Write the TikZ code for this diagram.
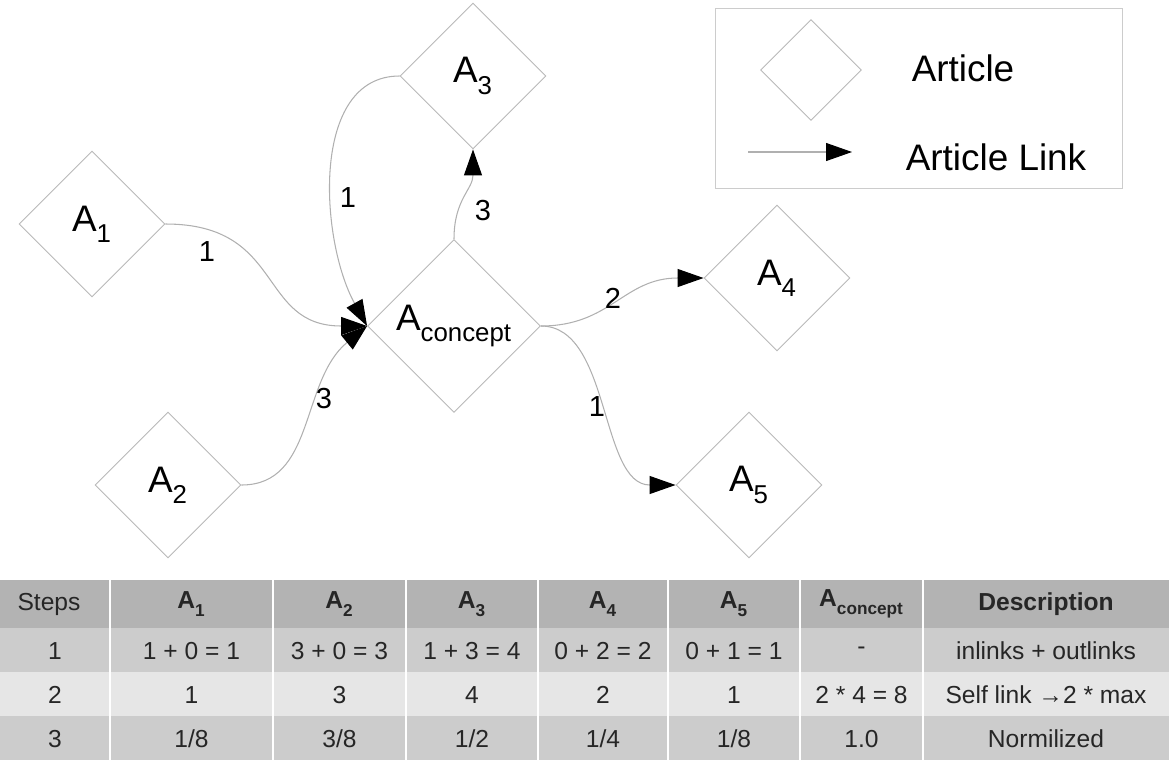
\documentclass[tikz,border=0pt]{standalone}
\usepackage{fontspec}
\setmainfont{Liberation Sans}
\usetikzlibrary{shapes.geometric,arrows.meta,positioning}
\definecolor{edgegray}{HTML}{B0B0B0}
\definecolor{boxgray}{HTML}{B8B8B8}
\definecolor{framegray}{HTML}{CCCCCC}
\definecolor{headgray}{HTML}{B3B3B3}
\definecolor{rowgray}{HTML}{CCCCCC}
\definecolor{rowlight}{HTML}{E6E6E6}
\newcommand{\sbs}[1]{\raisebox{-0.3ex}{\textsubscript{#1}}}

\begin{document}
\begin{tikzpicture}[
    x=0.02cm, y=-0.02cm,
    every node/.style={font=\fontsize{21}{25}\selectfont},
    art/.style={diamond, draw=boxgray, line width=0.5pt, aspect=1, inner sep=0pt,
                minimum width=2.92cm, minimum height=2.92cm},
    bigart/.style={art, minimum width=3.46cm, minimum height=3.46cm},
    lnk/.style={draw=edgegray, line width=0.6pt,
                -{Triangle[length=5.2mm, width=3.6mm, color=black, fill=black]}},
    lbl/.style={font=\fontsize{16.5}{20}\selectfont},
    cell/.style={font=\fontsize{14}{17}\selectfont, text=black!85, inner sep=0pt},
]
\useasboundingbox (0,0) rectangle (1169,761);

% Articles
\node[art]    (a1) at (92,224)  {A\sbs{1}};
\node[art]    (a2) at (168,485) {A\sbs{2}};
\node[art]    (a3) at (473,76)  {A\sbs{3}};
\node[bigart] (ac) at (454,326) {A\sbs{concept}};
\node[art]    (a4) at (777,278) {A\sbs{4}};
\node[art]    (a5) at (749,485) {A\sbs{5}};

% Links
\draw[lnk] (a1.east) .. controls +(120,0) and +(-110,0) .. (ac.west);
\draw[lnk] (a2.east) .. controls +(74,0) and +(-67,55) .. (ac.west);
\draw[lnk] (a3.west) .. controls +(-90,0) and +(-47,-85) .. (ac.west);
\draw[lnk] (ac.north) .. controls +(0,-40) and +(0,40) .. (a3.south);
\draw[lnk] (ac.east) .. controls +(70,0) and +(-80,0) .. (a4.west);
\draw[lnk] (ac.east) .. controls +(70,0) and +(-76,0) .. (a5.west);

% Link weights
\node[lbl] (w1) at (207,252) {1};
\node[lbl] (w2) at (324,399) {3};
\node[lbl] (w3) at (348,198) {1};
\node[lbl] (w4) at (483,211) {3};
\node[lbl] (w5) at (613,298) {2};
\node[lbl] (w6) at (597,407) {1};

% Legend
\node[draw=framegray, line width=0.5pt, minimum width=8.14cm, minimum height=3.6cm] (legend) at (918.5,98) {};
\node[art, minimum width=2.02cm, minimum height=2.02cm] (legart) at (811,70) {};
\node (legarttxt) at (963,68) {Article};
\coordinate (legfrom) at (748,152);
\coordinate (legto) at (852,152);
\draw[lnk] (legfrom) -- (legto);
\node (leglnktxt) at (996,157) {Article Link};

% Table
\foreach \top/\bot/\col in {580/628/headgray, 628/672/rowgray, 672/716/rowlight, 716/760/rowgray}
  \fill[\col] (0,\top) rectangle (1169,\bot);
\foreach \x in {110,273,406,538,668,800,923}
  \draw[white, line width=1pt] (\x,580) -- (\x,760);

\foreach \t [count=\c from 0] in {Steps, \textbf{A\sbs{1}}, \textbf{A\sbs{2}},
    \textbf{A\sbs{3}}, \textbf{A\sbs{4}}, \textbf{A\sbs{5}},
    \textbf{A\sbs{concept}}, \textbf{Description}} {
  \pgfmathsetmacro{\cx}{{49,191.5,339.5,472,603,734,861.5,1046}[\c]}
  \node[cell] (h\c) at (\cx,604) {\t};
}
\foreach \t [count=\c from 0] in {1, 1 + 0 = 1, 3 + 0 = 3, 1 + 3 = 4, 0 + 2 = 2, 0 + 1 = 1, -, inlinks + outlinks} {
  \pgfmathsetmacro{\cx}{{55,191.5,339.5,472,603,734,861.5,1046}[\c]}
  \node[cell] (ra\c) at (\cx,651) {\t};
}
\foreach \t [count=\c from 0] in {2, 1, 3, 4, 2, 1, 2 * 4 = 8, Self link →2 * max} {
  \pgfmathsetmacro{\cx}{{55,191.5,339.5,472,603,734,861.5,1046}[\c]}
  \node[cell] (rb\c) at (\cx,695) {\t};
}
\foreach \t [count=\c from 0] in {3, 1/8, 3/8, 1/2, 1/4, 1/8, 1.0, Normilized} {
  \pgfmathsetmacro{\cx}{{55,191.5,339.5,472,603,734,861.5,1046}[\c]}
  \node[cell] (rc\c) at (\cx,739) {\t};
}

\end{tikzpicture}
\end{document}
